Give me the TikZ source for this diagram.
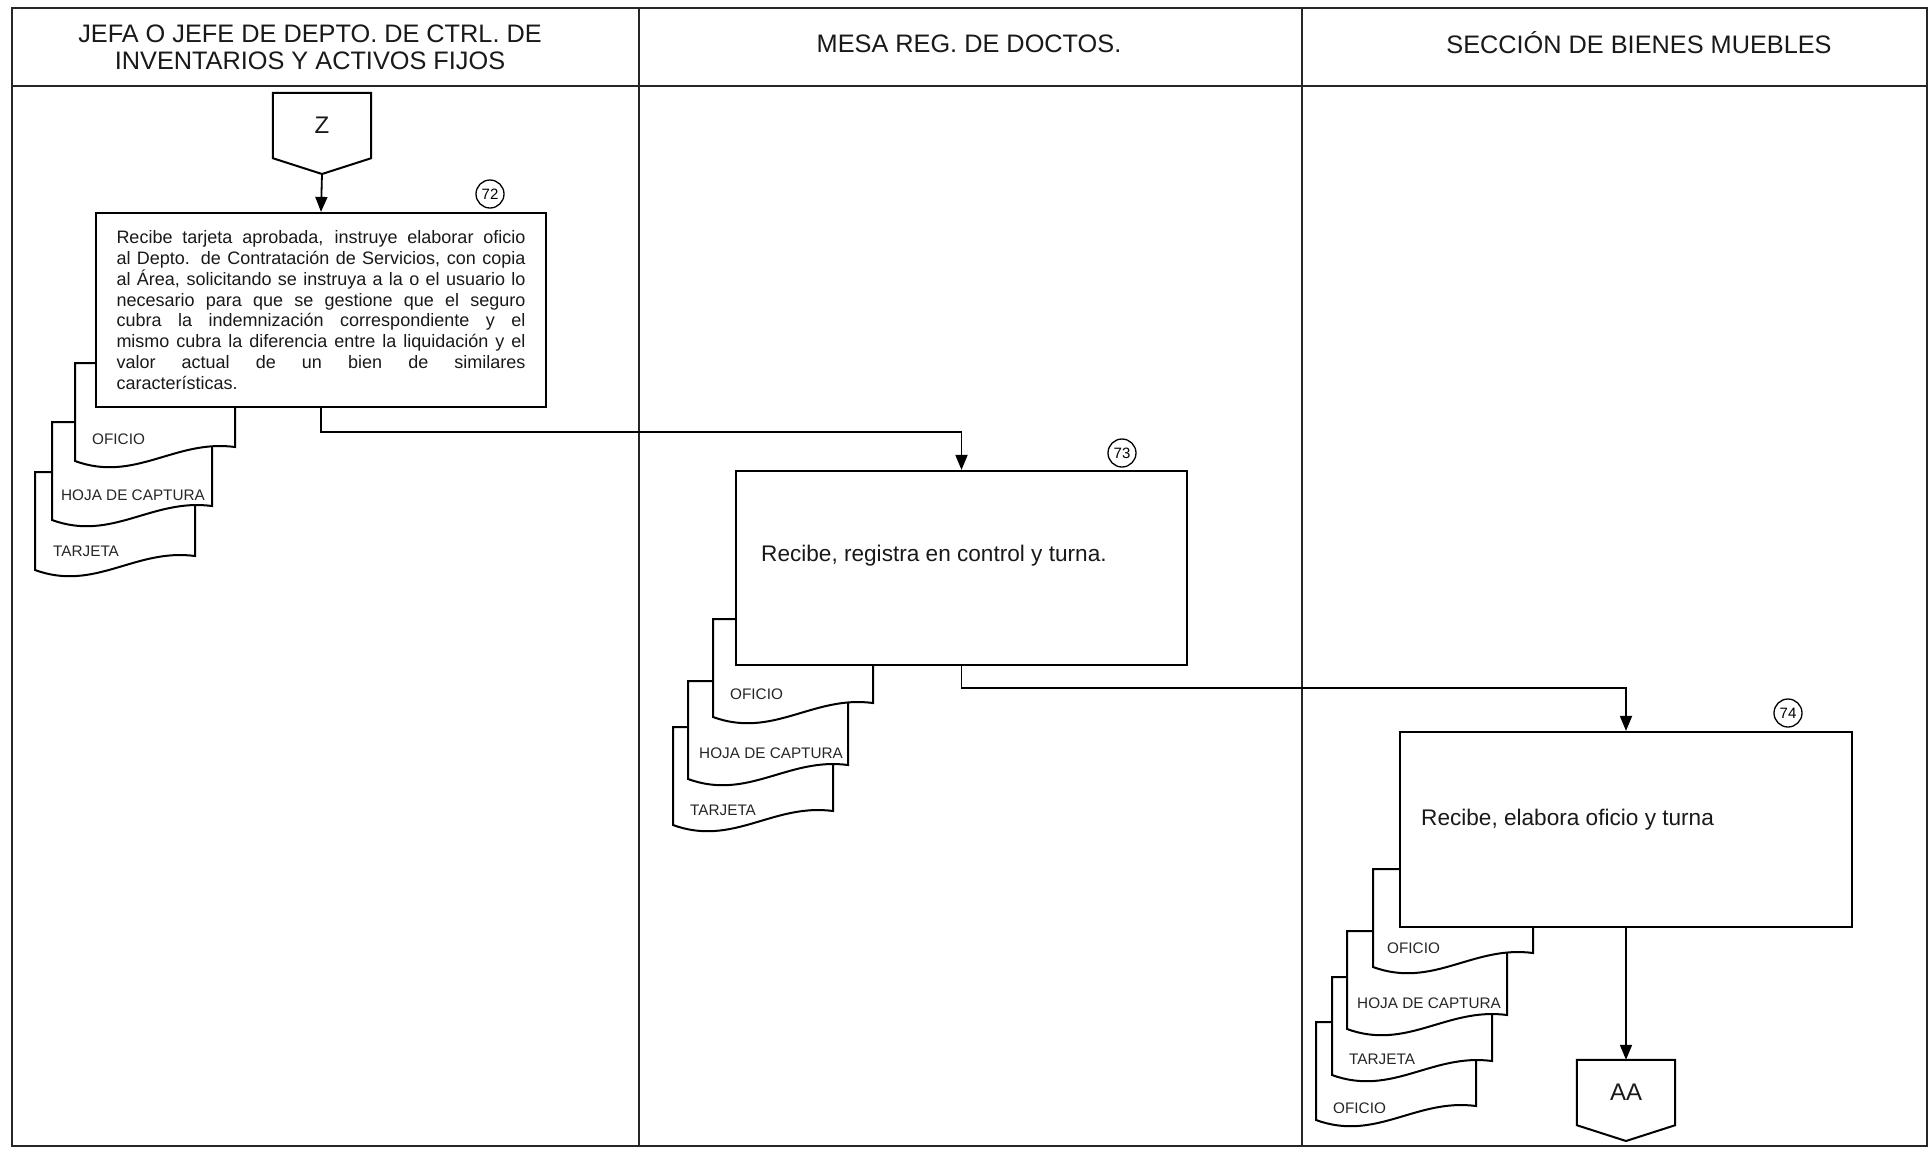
\documentclass[tikz,border=0pt]{standalone}
\usepackage{fontspec}
\setmainfont{Liberation Sans}
\usetikzlibrary{arrows.meta,calc}

% document sheet with a wavy lower edge: top-left x, top-left y, label, label dx, label baseline dy, label name
\newcommand\docsheet[6]{%
  \begin{scope}[shift={(#1,#2)}]
    \draw[docline] (0,0) -- (160,0) -- (160,84)
      .. controls (100,76) and (60,120) .. (0,98) -- cycle;
  \end{scope}
  \node[doclabel] (#6) at (#1+#4,#2+#5) {#3};
}

\begin{document}
\begin{tikzpicture}[x=1pt,y=-1pt,
  frameline/.style={line width=1.8pt, draw=black!85},
  procbox/.style={draw=black, line width=2.2pt, fill=white, minimum height=194, inner sep=0pt},
  flow/.style={line width=1.8pt, -{Triangle[length=15pt,width=12pt]}},
  docline/.style={draw=black, line width=2pt, fill=white},
  doclabel/.style={anchor=base west, inner sep=0pt, text=black!85, font=\fontsize{15.3}{16}\selectfont},
  lanehead/.style={inner sep=0pt, text=black!90, font=\fontsize{25.3}{27}\selectfont, align=center},
  steptext/.style={anchor=base west, inner sep=0pt, text=black!90, font=\fontsize{22.6}{26}\selectfont},
  stepnum/.style={circle, draw, line width=1.3pt, minimum size=28pt, inner sep=0pt, font=\fontsize{15}{15}\selectfont},
  offpage/.style={minimum width=98, minimum height=65, inner sep=0pt, text=black!90, font=\fontsize{24}{24}\selectfont},
  offline/.style={draw=black, line width=2pt, fill=white},
]
\fill[white] (0,0) rectangle (1931,1149);
\useasboundingbox (0,0) rectangle (1931,1149);

% swimlane frame
\draw[frameline] (12,8) rectangle (1927,1146);
\draw[frameline] (12,86) -- (1927,86);
\draw[frameline] (639,8) -- (639,1146);
\draw[frameline] (1302,8) -- (1302,1146);

\node[lanehead] (h1) at (310,47) {JEFA O JEFE DE DEPTO. DE CTRL. DE\\INVENTARIOS Y ACTIVOS FIJOS};
\node[lanehead] (h2) at (969,44) {MESA REG. DE DOCTOS.};
\node[lanehead] (h3) at (1639,43) {SECCIÓN DE BIENES MUEBLES};

% documents, back to front
\docsheet{35}{472}{TARJETA}{18}{84}{d1c}
\docsheet{52}{422}{HOJA DE CAPTURA}{9}{78}{d1b}
\docsheet{75}{363}{OFICIO}{17}{81}{d1a}

\docsheet{673}{727}{TARJETA}{17}{88}{d2c}
\docsheet{688}{681}{HOJA DE CAPTURA}{11}{77}{d2b}
\docsheet{713}{619}{OFICIO}{17}{80}{d2a}

\docsheet{1316}{1022}{OFICIO}{17}{91}{d3d}
\docsheet{1332}{977}{TARJETA}{17}{87}{d3c}
\docsheet{1347}{931}{HOJA DE CAPTURA}{10}{77}{d3b}
\docsheet{1373}{869}{OFICIO}{14}{84}{d3a}

% off-page connector Z
\coordinate (ztip) at (322,174);
\node[offpage] (z) at (322,125.5) {};
\draw[offline] (z.north west) -- (z.north east) -- (z.south east) -- (ztip) -- (z.south west) -- cycle;
\node[offpage] (zt) at (z) {Z};

% process steps
\node[procbox, minimum width=450, text width=409, align=justify, text=black!90,
      font=\fontsize{18}{20.86}\selectfont] (b72) at (321,310)
  {\tolerance=10000\hyphenpenalty=10000
   Recibe tarjeta aprobada, instruye elaborar oficio\linebreak
   al Depto. de Contratación de Servicios, con copia\linebreak
   al Área, solicitando se instruya a la o el usuario lo\linebreak
   necesario para que se gestione que el seguro\linebreak
   cubra la indemnización correspondiente y el\linebreak
   mismo cubra la diferencia entre la liquidación y el\linebreak
   valor actual de un bien de similares\linebreak
   características.};
\node[stepnum] (n72) at (490,194) {72};

\node[procbox, minimum width=451] (b73) at (961.5,568) {};
\node[steptext] (t73) at (761,561) {Recibe, registra en control y turna.};
\node[stepnum] (n73) at (1122,453) {73};

\node[procbox, minimum width=452, minimum height=195] (b74) at (1626,829.5) {};
\node[steptext] (t74) at (1421,825) {Recibe, elabora oficio y turna};
\node[stepnum] (n74) at (1788,713) {74};

% off-page connector AA
\coordinate (aatip) at (1626,1141);
\node[offpage] (aa) at (1626,1092.5) {};
\draw[offline] (aa.north west) -- (aa.north east) -- (aa.south east) -- (aatip) -- (aa.south west) -- cycle;
\node[offpage] (aat) at (aa) {AA};

% flow
\draw[flow] (ztip) -- (b72.north);
\draw[flow] (b72.south) -- ++(0,24) -| (b73.north);
\draw[flow] (b73.south) -- ++(0,22) -| (b74.north);
\draw[flow] (b74.south) -- (aa.north);
\end{tikzpicture}
\end{document}
